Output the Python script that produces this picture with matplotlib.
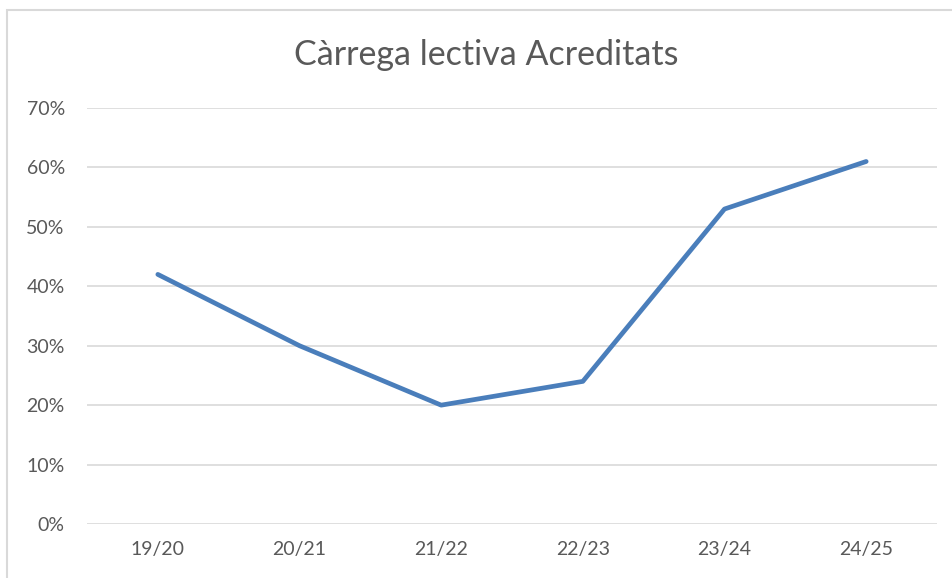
import matplotlib
matplotlib.use("Agg")
from matplotlib import pyplot as plt
from matplotlib.patches import Rectangle
from matplotlib.ticker import PercentFormatter

plt.rcParams['font.family'] = ['Lato', 'DejaVu Sans']

cursos = ["19/20", "20/21", "21/22", "22/23", "23/24", "24/25"]
carrega = [0.42, 0.30, 0.20, 0.24, 0.53, 0.61]
yticks = [0, 0.1, 0.2, 0.3, 0.4, 0.5, 0.6, 0.7]

fig = plt.figure(figsize=(9.52, 5.78), dpi=100)
ax = fig.add_axes([87/952, 1-524/578, 850/952, 416/578])

# outer chart border (cut off at right/bottom like the screenshot)
fig.patches.append(Rectangle((6.5/952, -0.1), 1.2, 1 - 9.5/578 + 0.1,
                             transform=fig.transFigure, fill=False,
                             edgecolor="#d9d9d9", linewidth=1.5))

x = range(len(cursos))
ax.plot(x, carrega, color="#4a7ebb", linewidth=3.4, solid_capstyle="round")

ax.set_xlim(-0.5, len(cursos) - 0.5)
ax.set_ylim(0, 0.7)
ax.set_yticks(yticks)
ax.yaxis.set_major_formatter(PercentFormatter(1.0, decimals=0))
ax.set_xticks(list(x))
ax.set_xticklabels(cursos)

ax.grid(axis="y", color="#d9d9d9", linewidth=1.2)
ax.set_axisbelow(True)
for s in ax.spines.values():
    s.set_visible(False)
ax.tick_params(length=0, labelsize=14, labelcolor="#595959")
ax.tick_params(axis="y", pad=16)
ax.tick_params(axis="x", pad=12)

fig.text(486/952, 1-55/578, "Càrrega lectiva Acreditats", ha="center", va="center",
         fontsize=24.5, color="#595959")

fig.savefig("out.png", dpi=100)
